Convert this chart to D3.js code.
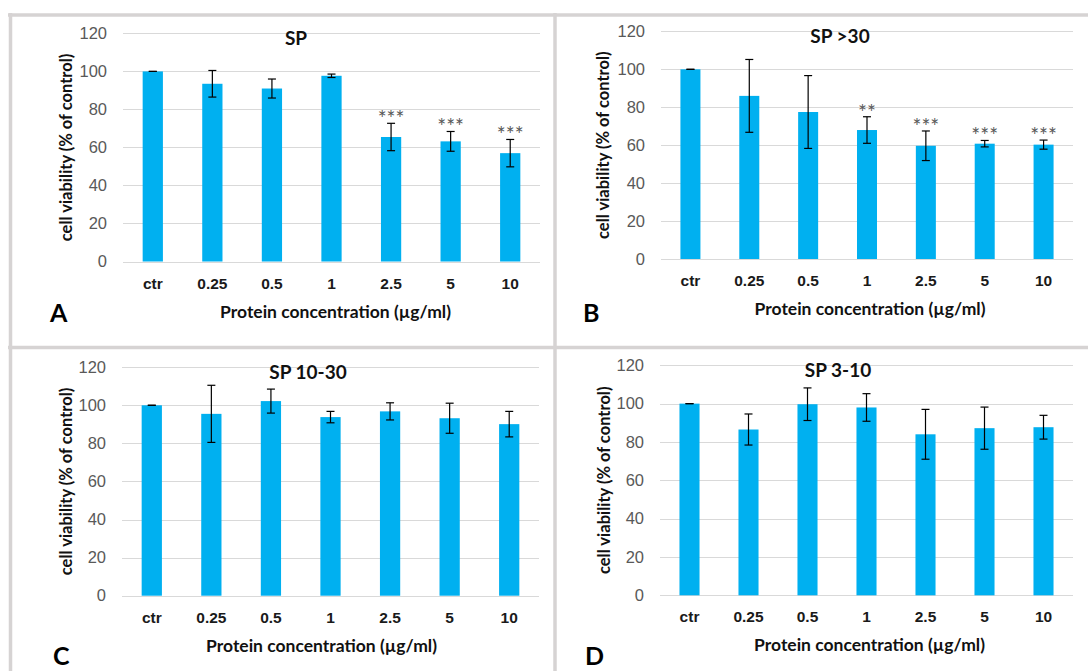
<!DOCTYPE html>
<html>
<head>
<meta charset="utf-8">
<script src="https://cdn.jsdelivr.net/npm/d3@7"></script>
<style>
  body { margin: 0; background: #fff; }
  svg { display: block; font-family: Lato, 'Open Sans', sans-serif; }
</style>
</head>
<body>
<svg id="chart" width="1088" height="671"></svg>
<script>
const categories = ['ctr', '0.25', '0.5', '1', '2.5', '5', '10']
const yTicks = [0, 20, 40, 60, 80, 100, 120]
const panelTitles = ['SP', 'SP >30', 'SP 10-30', 'SP 3-10']
const panelLetters = ['A', 'B', 'C', 'D']

// mean and error, % of control
const spMean = [100, 93.5, 91, 97.7, 65.5, 63.2, 57]
const spErr = [0, 7, 5, 0.9, 7.2, 5.2, 7.2]
const spStars = ['', '', '', '', '***', '***', '***']

const sp30Mean = [100, 86, 77.5, 68, 59.7, 60.8, 60.3]
const sp30Err = [0, 19.2, 19.2, 7, 7.8, 1.7, 2.4]
const sp30Stars = ['', '', '', '**', '***', '***', '***']

const sp1030Mean = [100, 95.5, 102.2, 93.8, 96.8, 93.2, 90.1]
const sp1030Err = [0, 15, 6.3, 3, 4.5, 7.9, 6.7]

const sp310Mean = [100, 86.5, 99.7, 98, 84, 87.2, 87.7]
const sp310Err = [0, 8.1, 8.5, 7.2, 13, 11, 6.2]

const series = [
  { mean: spMean, err: spErr, stars: spStars },
  { mean: sp30Mean, err: sp30Err, stars: sp30Stars },
  { mean: sp1030Mean, err: sp1030Err, stars: null },
  { mean: sp310Mean, err: sp310Err, stars: null },
]

// plot boxes of the four panels
const layout = [
  { x0: 123, x1: 540, top: 33.4, bottom: 261.5, titleX: 296, letterX: 50, letterY: 322, yLabelX: 72, xTitleDx: 4 },
  { x0: 661, x1: 1073, top: 31.4, bottom: 259, titleX: 840, letterX: 583, letterY: 322, yLabelX: 609, xTitleDx: 3 },
  { x0: 122, x1: 539, top: 367.2, bottom: 595.7, titleX: 308, letterX: 53, letterY: 665, yLabelX: 72, xTitleDx: -9 },
  { x0: 660, x1: 1073, top: 365.3, bottom: 595.3, titleX: 838, letterX: 585, letterY: 665, yLabelX: 610, xTitleDx: 3 },
]

const barColor = '#00b0f0'
const gridColor = '#d9d9d9'
const frameColor = '#d6d3d3'

const svg = d3.select('#chart')

// -- panel frames
const frame = svg.append('g').attr('stroke', frameColor).attr('stroke-width', 3.5)
frame.append('line').attr('x1', 8).attr('x2', 1088).attr('y1', 15).attr('y2', 15)
frame.append('line').attr('x1', 8).attr('x2', 1088).attr('y1', 347.5).attr('y2', 347.5)
frame.append('line').attr('x1', 10.5).attr('x2', 10.5).attr('y1', 13).attr('y2', 671)
frame.append('line').attr('x1', 555).attr('x2', 555).attr('y1', 13).attr('y2', 671)

layout.forEach((box, i) => {
  const { mean, err, stars } = series[i]
  const g = svg.append('g')

  const x = d3.scaleBand().domain(categories).range([box.x0, box.x1]).paddingInner(0.66).paddingOuter(0.33)
  const y = d3.scaleLinear().domain([0, 120]).range([box.bottom, box.top])

  // gridlines
  g.append('g')
    .selectAll('line')
    .data(yTicks)
    .join('line')
    .attr('x1', box.x0)
    .attr('x2', box.x1)
    .attr('y1', (d) => Math.round(y(d)) + 0.5)
    .attr('y2', (d) => Math.round(y(d)) + 0.5)
    .attr('stroke', gridColor)
    .attr('stroke-width', 1)

  // y axis labels
  const yAxis = g
    .append('g')
    .attr('transform', `translate(${box.x0 - 16},0)`)
    .call(d3.axisLeft(y).tickValues(yTicks).tickSize(0).tickPadding(0))
  yAxis.select('.domain').remove()
  yAxis.selectAll('text').attr('font-size', 16.5).attr('fill', '#595959').attr('font-family', null)

  // x axis labels
  const xAxis = g
    .append('g')
    .attr('transform', `translate(0,${box.bottom})`)
    .call(d3.axisBottom(x).tickSize(0).tickPadding(16))
  xAxis.select('.domain').remove()
  xAxis.selectAll('text').attr('font-size', 15.5).attr('font-weight', 'bold').attr('fill', '#1a1a1a').attr('font-family', null)

  // bars
  g.append('g')
    .selectAll('rect')
    .data(categories)
    .join('rect')
    .attr('x', (d) => x(d))
    .attr('width', x.bandwidth())
    .attr('y', (d, j) => y(mean[j]))
    .attr('height', (d, j) => box.bottom - y(mean[j]))
    .attr('fill', barColor)

  // error bars
  const eb = g.append('g').attr('stroke', '#000').attr('stroke-width', 1.2)
  categories.forEach((c, j) => {
    const cx = x(c) + x.bandwidth() / 2
    const hi = y(mean[j] + err[j])
    const lo = y(mean[j] - err[j])
    eb.append('line').attr('x1', cx).attr('x2', cx).attr('y1', hi).attr('y2', lo)
    eb.append('line').attr('x1', cx - 4).attr('x2', cx + 4).attr('y1', hi).attr('y2', hi)
    eb.append('line').attr('x1', cx - 4).attr('x2', cx + 4).attr('y1', lo).attr('y2', lo)
  })

  // significance stars
  if (stars) {
    g.append('g')
      .selectAll('text')
      .data(categories)
      .join('text')
      .attr('x', (d) => x(d) + x.bandwidth() / 2)
      .attr('y', (d, j) => y(mean[j] + err[j]) + 3)
      .attr('text-anchor', 'middle')
      .attr('font-size', 21)
      .attr('fill', '#595959')
      .text((d, j) => stars[j])
  }

  // title
  g.append('text')
    .attr('x', box.titleX)
    .attr('y', box.top + 12)
    .attr('text-anchor', 'middle')
    .attr('font-size', 19)
    .attr('font-weight', 'bold')
    .attr('fill', '#111')
    .text(panelTitles[i])

  // y axis title
  g.append('text')
    .attr('transform', `translate(${box.yLabelX},${(box.top + box.bottom) / 2}) rotate(-90)`)
    .attr('text-anchor', 'middle')
    .attr('font-size', 16.5)
    .attr('font-weight', 'bold')
    .attr('fill', '#111')
    .text('cell viability (% of control)')

  // x axis title
  g.append('text')
    .attr('x', (box.x0 + box.x1) / 2 + box.xTitleDx)
    .attr('y', box.bottom + 56)
    .attr('text-anchor', 'middle')
    .attr('font-size', 17.5)
    .attr('font-weight', 'bold')
    .attr('fill', '#111')
    .text('Protein concentration (µg/ml)')

  // panel letter
  g.append('text')
    .attr('x', box.letterX)
    .attr('y', box.letterY)
    .attr('font-size', 25)
    .attr('font-weight', 'bold')
    .attr('fill', '#000')
    .text(panelLetters[i])
})
</script>
</body>
</html>
